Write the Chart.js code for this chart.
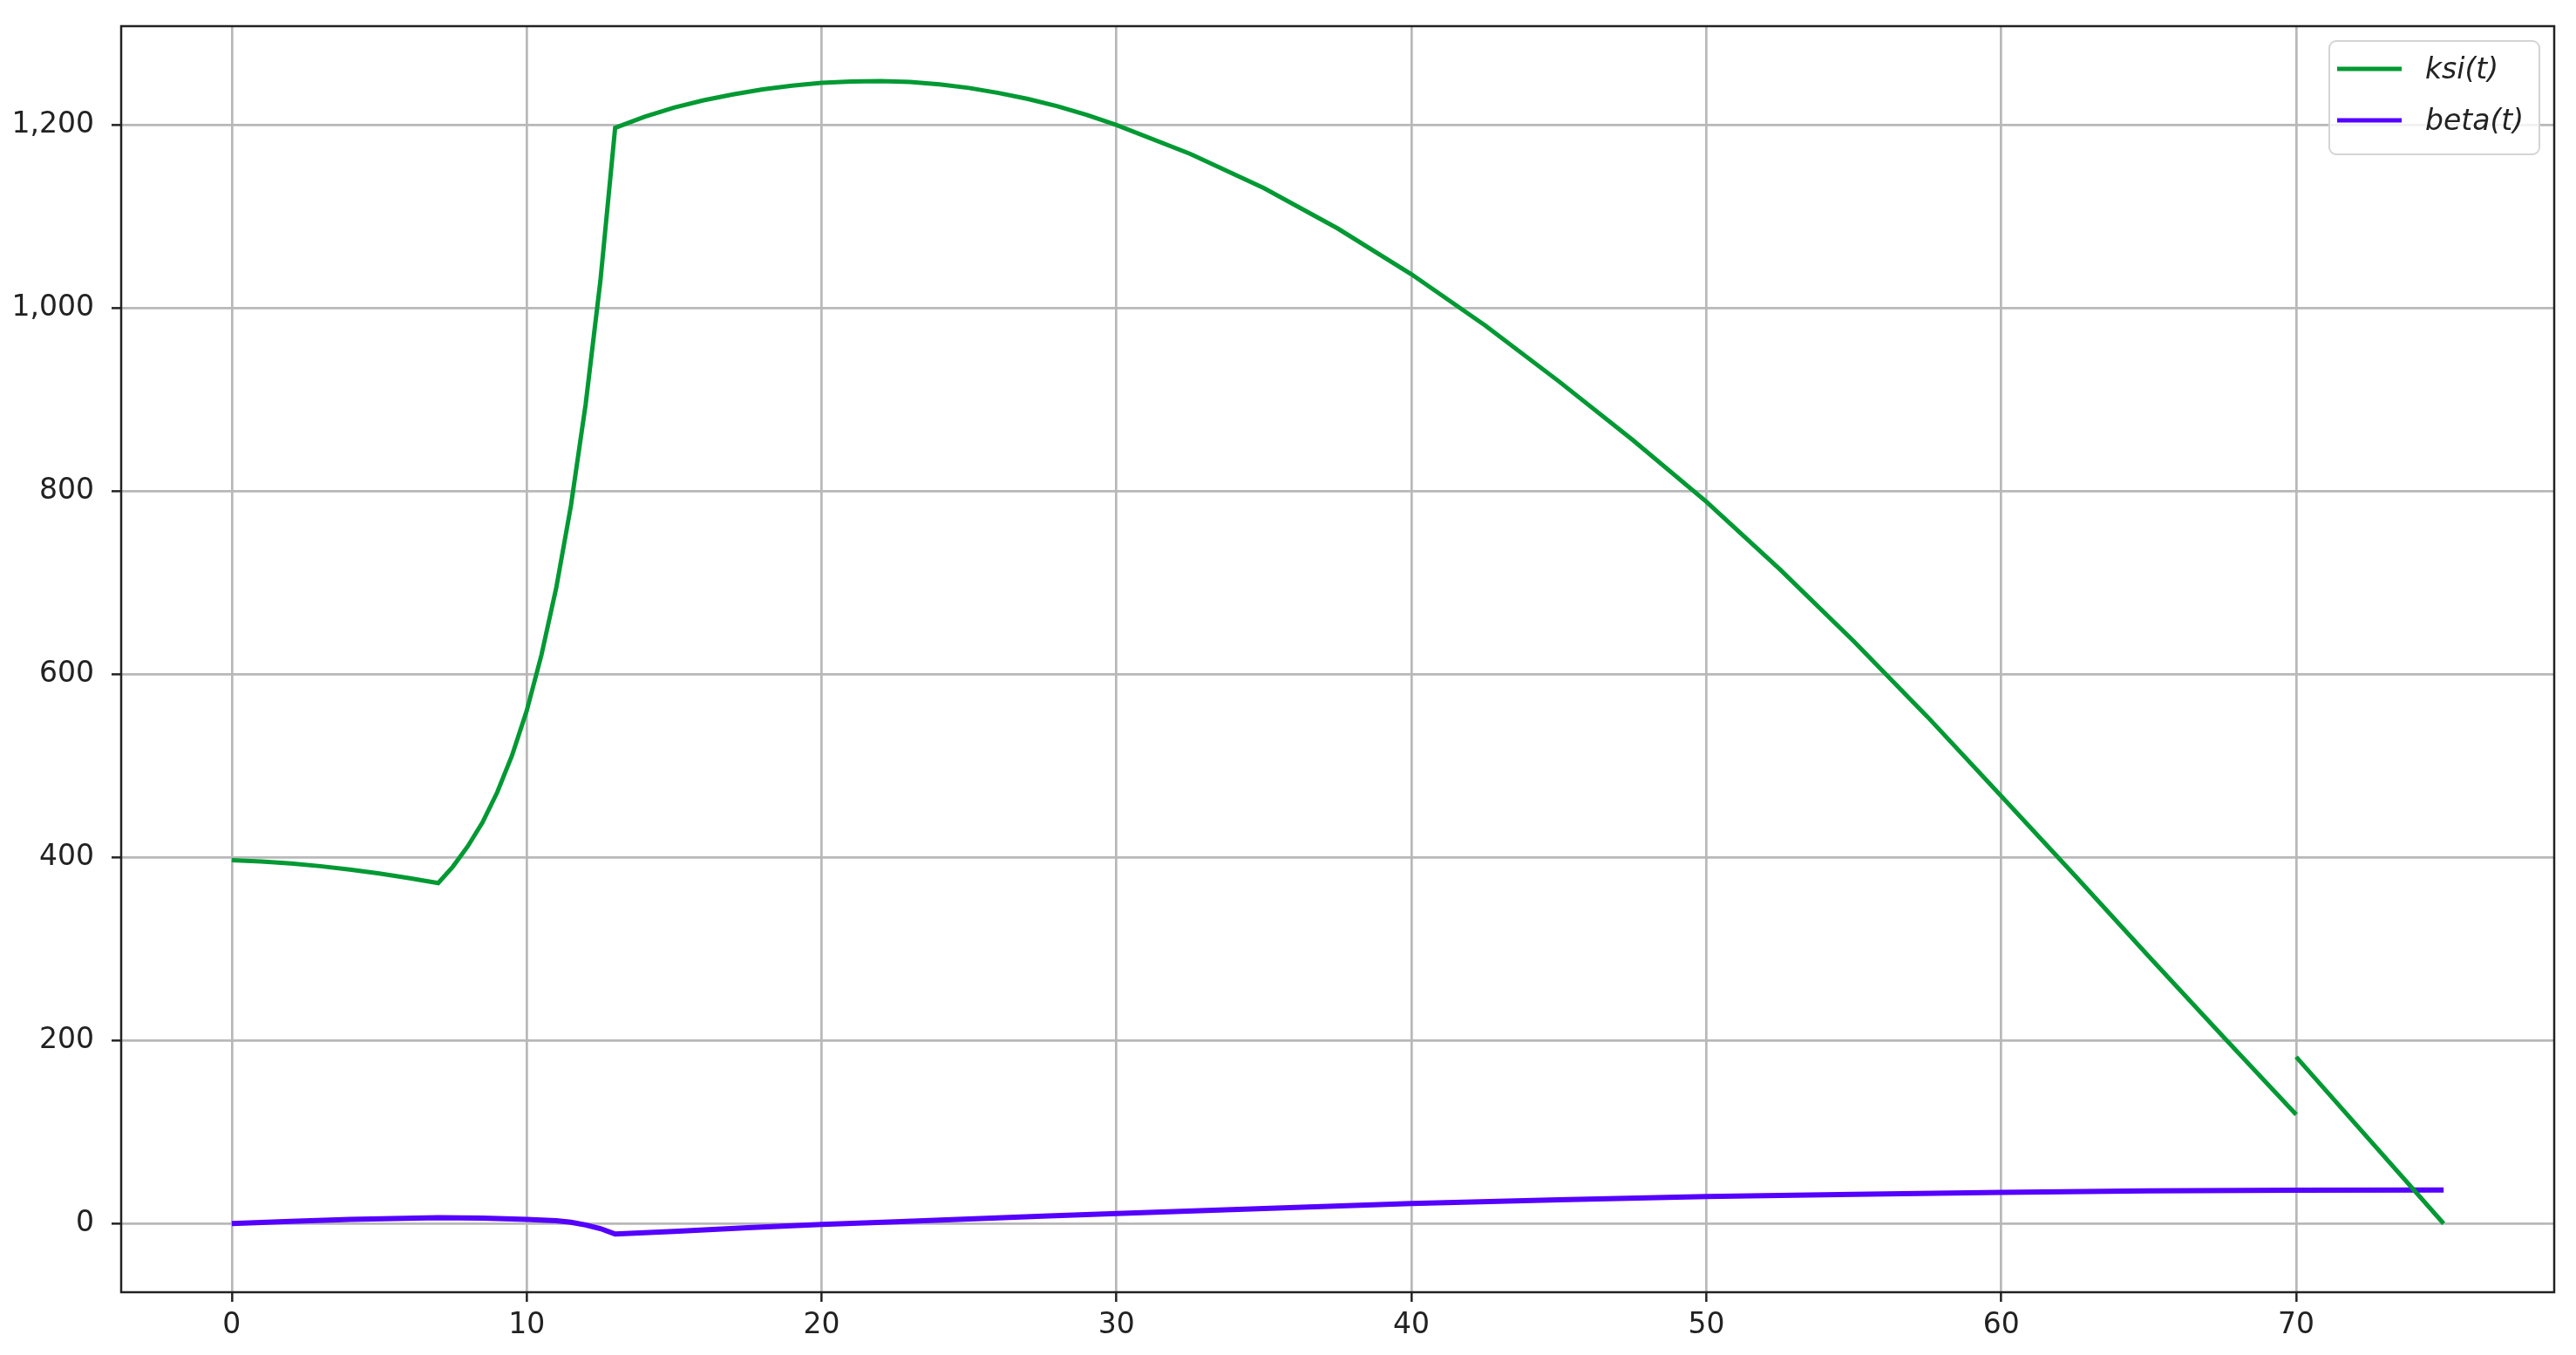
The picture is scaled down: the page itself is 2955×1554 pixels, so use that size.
<!DOCTYPE html>
<html>
<head>
<meta charset="utf-8">
<script src="https://cdn.jsdelivr.net/npm/chart.js@4.4.1/dist/chart.umd.min.js"></script>
<style>
  html, body { margin: 0; padding: 0; background: #fff; }
  #wrap { width: 2955px; height: 1554px; position: relative; }
</style>
</head>
<body>
<div id="wrap"><canvas id="ksiChart"></canvas></div>
<script>
// ksi(t), null = break at t = 70
const ksiT = [0, 1, 2, 3, 4, 5, 6, 7, 7.5, 8, 8.5, 9, 9.5, 10, 10.5, 11, 11.5, 12, 12.5, 13,
    14, 15, 16, 17, 18, 19, 20, 21, 22, 23, 24, 25, 26, 27, 28, 29, 30,
    32.5, 35, 37.5, 40, 42.5, 45, 47.5, 50, 52.5, 55, 57.5, 60, 62.5, 65, 67.5, 70, 70, 70, 75];
const ksiVals = [397, 395.5, 393.3, 390.4, 386.8, 382.5, 377.5, 372, 390, 412, 438, 471, 511, 560, 621, 694, 784, 895, 1030, 1197,
    1209, 1219, 1227, 1233.5, 1239, 1243, 1246, 1247.5, 1248, 1247, 1244.5, 1240.5, 1235, 1228.5, 1220.5, 1211, 1200,
    1168.5, 1131, 1087, 1037, 981, 920, 856, 788.5, 714.5, 636, 553.5, 467, 380, 292, 205, 119, null, 182, 0];

// beta(t)
const betaT = [0, 2, 4, 5.5, 7, 8.5, 10, 11, 11.5, 12, 12.5, 13, 15, 17.5, 20, 22.5, 25, 27.5, 30,
    35, 40, 45, 50, 55, 60, 65, 70, 75];
const betaVals = [0, 2.5, 4.5, 5.5, 6.5, 6, 4.5, 3, 1.5, -1.5, -5.5, -11.5, -8.5, -4.5, -1, 2, 5, 8, 11,
    16.5, 22, 26, 29.5, 32, 34, 35.8, 36.5, 36.7];

const seriesLabels = ['ksi(t)', 'beta(t)'];
const seriesColors = ['#009933', '#5500ff'];

const xTicks = [0, 10, 20, 30, 40, 50, 60, 70];
const yTicks = [0, 200, 400, 600, 800, 1000, 1200];

const toPoints = (ts, vs) => ts.map((t, i) => ({ x: t, y: vs[i] }));

// box around the plot, like matplotlib spines
const framePlugin = {
    id: 'frame',
    afterDatasetsDraw(chart) {
        const { ctx, chartArea: a } = chart;
        ctx.save();
        ctx.strokeStyle = '#222';
        ctx.lineWidth = 2.5;
        ctx.strokeRect(a.left, a.top, a.right - a.left, a.bottom - a.top);
        ctx.restore();
    }
};

// legend box in the upper right corner of the plot
const legendBoxPlugin = {
    id: 'legendBox',
    afterDraw(chart) {
        const { ctx, chartArea: a } = chart;
        const w = 241, h = 130;
        const x = a.right - 17 - w;
        const y = a.top + 17;
        ctx.save();
        ctx.beginPath();
        ctx.roundRect(x, y, w, h, 8);
        ctx.fillStyle = 'rgba(255,255,255,0.8)';
        ctx.fill();
        ctx.strokeStyle = '#d4d4d4';
        ctx.lineWidth = 2;
        ctx.stroke();

        chart.data.datasets.forEach((ds, i) => {
            const rowY = y + 32 + i * 59;
            ctx.beginPath();
            ctx.moveTo(x + 9, rowY);
            ctx.lineTo(x + 83, rowY);
            ctx.strokeStyle = ds.borderColor;
            ctx.lineWidth = 5;
            ctx.stroke();
            ctx.fillStyle = '#222';
            ctx.font = 'italic 33px "DejaVu Sans", sans-serif';
            ctx.textBaseline = 'middle';
            ctx.fillText(ds.label, x + 110, rowY + 2);
        });
        ctx.restore();
    }
};

// keep the plot box where the reference has it
function noScalePadding(scale) {
    scale.paddingTop = 0;
    scale.paddingBottom = 0;
    scale.paddingLeft = 0;
    scale.paddingRight = 0;
}

function initChart() {
    const ctx = document.getElementById('ksiChart').getContext('2d');
    const tickFont = { family: '"DejaVu Sans", sans-serif', size: 33 };
    const gridOpts = { color: '#b8b8b8', lineWidth: 2.7, tickColor: '#222', tickWidth: 2.5, tickLength: 11 };

    new Chart(ctx, {
        type: 'line',
        data: {
            datasets: [{
                label: seriesLabels[0],
                data: toPoints(ksiT, ksiVals),
                borderColor: seriesColors[0],
                backgroundColor: seriesColors[0],
                borderWidth: 5,
                pointRadius: 0,
                tension: 0,
                spanGaps: false
            }, {
                label: seriesLabels[1],
                data: toPoints(betaT, betaVals),
                borderColor: seriesColors[1],
                backgroundColor: seriesColors[1],
                borderWidth: 6,
                pointRadius: 0,
                tension: 0
            }]
        },
        options: {
            responsive: true,
            maintainAspectRatio: false,
            devicePixelRatio: 1,
            animation: false,
            locale: 'en-US',
            layout: { padding: { top: 30, right: 25, left: 0, bottom: 0 } },
            plugins: {
                legend: { display: false },
                tooltip: { enabled: false }
            },
            scales: {
                x: {
                    type: 'linear',
                    min: -3.75,
                    max: 78.75,
                    border: { display: false },
                    grid: gridOpts,
                    ticks: { color: '#222', font: tickFont, padding: 8, maxRotation: 0, autoSkip: false },
                    afterBuildTicks(scale) { scale.ticks = xTicks.map(v => ({ value: v })); },
                    afterFit(scale) { scale.height = 72; noScalePadding(scale); }
                },
                y: {
                    type: 'linear',
                    min: -75,
                    max: 1308,
                    border: { display: false },
                    grid: gridOpts,
                    ticks: { color: '#222', font: tickFont, padding: 20, autoSkip: false },
                    afterBuildTicks(scale) { scale.ticks = yTicks.map(v => ({ value: v })); },
                    afterFit(scale) { scale.width = 139; noScalePadding(scale); }
                }
            }
        },
        plugins: [framePlugin, legendBoxPlugin]
    });
}

document.addEventListener('DOMContentLoaded', initChart);
</script>
</body>
</html>
